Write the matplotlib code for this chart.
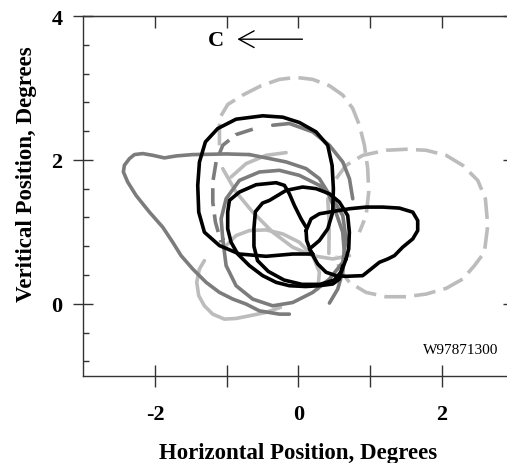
import matplotlib
matplotlib.use("Agg")
import matplotlib.pyplot as plt
from matplotlib.patches import FancyArrowPatch

plt.rcParams['font.family'] = ['Liberation Serif', 'DejaVu Serif']

# ---- data (degrees) ----
black_big_x = [0.200, -0.079, -0.451, -0.823, -1.101, -1.311, -1.390, -1.404, -1.380, -1.297, -1.125, -0.869,
               -0.497, -0.218, 0.014, 0.247, 0.409, 0.470, 0.488, 0.479, 0.409, 0.293, 0.154, 0.200]
black_big_y = [0.692, 0.692, 0.660, 0.692, 0.809, 0.995, 1.274, 1.646, 1.971, 2.250, 2.436, 2.566,
               2.613, 2.594, 2.520, 2.389, 2.203, 1.924, 1.599, 1.274, 1.041, 0.879, 0.762, 0.692]

black_mid_x = [0.107, 0.037, -0.056, -0.126, -0.195, -0.311, -0.590, -0.823, -0.962, -0.986, -0.986, -0.939,
               -0.847, -0.683, -0.498, -0.311, -0.126, 0.100, 0.293, 0.479, 0.572, 0.618]
black_mid_y = [1.065, 1.181, 1.367, 1.530, 1.646, 1.683, 1.655, 1.553, 1.437, 1.274, 1.042, 0.856,
               0.693, 0.530, 0.391, 0.298, 0.251, 0.240, 0.251, 0.275, 0.344, 0.530]

black_small_x = [0.665, 0.600, 0.500, 0.300, 0.050, -0.200, -0.420, -0.570, -0.620, -0.620, -0.600, -0.500,
                 -0.404, -0.172, 0.060, 0.247, 0.432, 0.572, 0.688, 0.711, 0.702, 0.665]
black_small_y = [0.623, 0.450, 0.330, 0.270, 0.270, 0.330, 0.450, 0.600, 0.800, 1.050, 1.280, 1.400,
                 1.437, 1.576, 1.623, 1.600, 1.530, 1.414, 1.227, 0.996, 0.763, 0.623]

black_lobe_x = [0.107, 0.177, 0.293, 0.479, 0.711, 0.944, 1.176, 1.409, 1.595, 1.664, 1.664, 1.595, 1.455,
                1.339, 1.246, 1.130, 1.014, 0.897, 0.665, 0.526, 0.386, 0.269, 0.177, 0.116, 0.107]
black_lobe_y = [1.018, 1.181, 1.251, 1.283, 1.321, 1.344, 1.344, 1.330, 1.274, 1.158, 1.018, 0.902, 0.787,
                0.669, 0.623, 0.577, 0.484, 0.391, 0.382, 0.391, 0.438, 0.554, 0.717, 0.879, 1.018]

gray_tri_x = [-0.683, -1.008, -1.241, -1.474, -1.706, -1.869, -2.032, -2.171, -2.287, -2.357, -2.427, -2.441,
              -2.381, -2.264, -2.078, -1.893, -1.753, -1.636, -1.474, -1.287, -1.102, -0.916, -0.729,
              -0.544, -0.265, -0.126]
gray_tri_y = [2.074, 2.083, 2.078, 2.074, 2.055, 2.028, 2.064, 2.088, 2.074, 2.017, 1.925, 1.833,
              1.693, 1.506, 1.275, 1.066, 0.856, 0.669, 0.484, 0.298, 0.159, 0.066, -0.004,
              -0.098, -0.144, -0.144]

gray_arc_x = [-0.683, -0.451, -0.172, 0.107, 0.293, 0.409, 0.520, 0.618, 0.641, 0.620, 0.549, 0.433]
gray_arc_y = [2.074, 2.028, 1.972, 1.879, 1.739, 1.553, 1.280, 0.995, 0.716, 0.450, 0.205, 0.010]

gray_loop_x = [-1.055, -1.008, -0.869, -0.637, -0.358, -0.079, 0.200, 0.433, 0.619, 0.665, 0.619, 0.479,
               0.293, 0.014, -0.265, -0.544, -0.823, -1.008, -1.078, -1.055]
gray_loop_y = [0.902, 0.530, 0.251, 0.065, -0.028, 0.018, 0.158, 0.344, 0.576, 0.902, 1.227, 1.460,
               1.646, 1.785, 1.855, 1.832, 1.715, 1.460, 1.181, 0.902]

gray_dash_x = [-0.636, -0.869, -1.055, -1.148, -1.194, -1.194, -1.157, -1.078]
gray_dash_y = [2.427, 2.352, 2.203, 1.971, 1.692, 1.413, 1.134, 0.855]

gray_top_x = [-0.358, -0.125, 0.200, 0.433, 0.619, 0.712, 0.758]
gray_top_y = [2.482, 2.506, 2.389, 2.203, 1.971, 1.739, 1.460]

light_top_x = [-1.101, -1.101, -0.985, -0.776, -0.520, -0.265, -0.032, 0.200, 0.433, 0.619, 0.758, 0.851,
               0.921, 0.967, 0.981, 0.944, 0.851]
light_top_y = [2.203, 2.575, 2.771, 2.901, 3.031, 3.119, 3.147, 3.119, 3.031, 2.901, 2.715, 2.482,
               2.203, 1.878, 1.553, 1.227, 0.995]

light_right_x = [0.526, 0.665, 0.898, 1.223, 1.502, 1.781, 2.060, 2.292, 2.502, 2.608, 2.641, 2.594, 2.455,
                 2.292, 2.060, 1.781, 1.502, 1.223, 0.944, 0.712, 0.572, 0.526]
light_right_y = [1.739, 1.924, 2.064, 2.134, 2.148, 2.134, 2.064, 1.924, 1.715, 1.460, 1.088, 0.716, 0.530,
                 0.344, 0.214, 0.135, 0.098, 0.098, 0.158, 0.297, 0.483, 0.669]

light_low_x = [-1.311, -1.381, -1.418, -1.390, -1.311, -1.195, -1.032, -0.869, -0.683, -0.451, -0.250]
light_low_y = [0.600, 0.484, 0.298, 0.112, -0.028, -0.144, -0.213, -0.204, -0.167, -0.120, -0.050]

light_mid_x = [-1.008, -0.869, -0.683, -0.451, -0.218, 0.014, 0.200, 0.293, 0.270]
light_mid_y = [0.809, 0.948, 1.018, 1.027, 0.971, 0.855, 0.669, 0.437, 0.204]

light_diag_x = [-1.055, -0.869, -0.637, -0.358, -0.079, 0.200, 0.479, 0.712]
light_diag_y = [1.878, 1.553, 1.274, 0.995, 0.786, 0.669, 0.623, 0.669]

light_arc_x = [-0.939, -0.730, -0.451, -0.172]
light_arc_y = [1.762, 1.948, 2.064, 2.101]

light_vert_x = [0.409, 0.430, 0.425]
light_vert_y = [1.460, 1.100, 0.700]

x_ticks = [-2, -1, 0, 1, 2]
x_labels = ['-2', '', '0', '', '2']
y_ticks = [0, 2, 4]
y_labels = ['0', '2', '4']

BLACK = '#000000'
DARK = '#7c7c7c'
LIGHT = '#bcbcbc'

fig = plt.figure(figsize=(5.07, 4.64), dpi=100)
ax = fig.add_axes([0.1643, 0.1881, 0.8485, 0.7752])

lw = 2.6
kw = dict(solid_capstyle='round', solid_joinstyle='round', dash_capstyle='butt')

# light gray dashed
for xs, ys in [(light_top_x, light_top_y), (light_right_x, light_right_y)]:
    l, = ax.plot(xs, ys, color=LIGHT, lw=lw, **kw)
    l.set_dashes([6.0, 2.3])
# light gray solid
for xs, ys in [(light_low_x, light_low_y), (light_mid_x, light_mid_y), (light_diag_x, light_diag_y),
               (light_arc_x, light_arc_y), (light_vert_x, light_vert_y)]:
    ax.plot(xs, ys, color=LIGHT, lw=lw, **kw)
# dark gray
for xs, ys in [(gray_tri_x, gray_tri_y), (gray_arc_x, gray_arc_y), (gray_loop_x, gray_loop_y),
               (gray_top_x, gray_top_y)]:
    ax.plot(xs, ys, color=DARK, lw=lw, **kw)
l, = ax.plot(gray_dash_x, gray_dash_y, color=DARK, lw=lw, **kw)
l.set_dashes([5, 2.3])
# black
for xs, ys in [(black_big_x, black_big_y), (black_mid_x, black_mid_y), (black_small_x, black_small_y),
               (black_lobe_x, black_lobe_y)]:
    ax.plot(xs, ys, color=BLACK, lw=2.6, **kw)

ax.set_xlim(-3, 3)
ax.set_ylim(-1, 4)

for s in ax.spines.values():
    s.set_linewidth(1.0)
    s.set_color('#333333')

ax.set_xticks(x_ticks)
ax.set_xticklabels(x_labels)
ax.set_yticks(y_ticks)
ax.set_yticklabels(y_labels)
ax.set_yticks([v / 10 for v in range(-8, 40, 4)], minor=True)
ax.tick_params(axis='x', which='major', direction='inout', length=16, width=1.0, pad=12.5,
               labelsize=16, color='#333333')
ax.tick_params(axis='y', which='major', direction='inout', length=14, width=1.0, pad=7.8,
               labelsize=16, color='#333333')
ax.tick_params(axis='y', which='minor', direction='in', length=4.5, width=1.0, color='#333333')
for lab in ax.get_xticklabels() + ax.get_yticklabels():
    lab.set_fontweight('bold')

top = ax.secondary_xaxis('top')
top.set_xticks(x_ticks)
top.set_xticklabels([])
top.tick_params(direction='in', length=8.6, width=1.0, color='#333333')
right = ax.secondary_yaxis('right')
right.set_yticks(y_ticks)
right.set_yticklabels([])
right.tick_params(direction='in', length=7, width=1.0, color='#333333')

ax.set_xlabel('Horizontal Position, Degrees', fontsize=16.5, fontweight='bold')
ax.xaxis.set_label_coords(0.5003, -0.183)
ax.set_ylabel('Veritical Position, Degrees', fontsize=16.5, fontweight='bold')
ax.yaxis.set_label_coords(-0.1076, 0.5635)

ax.text(-1.148, 3.66, 'C', fontsize=16, fontweight='bold', ha='center', va='center')
arr = FancyArrowPatch((0.056, 3.678), (-0.851, 3.678), arrowstyle='->,head_length=0.55,head_width=0.3',
                      lw=1.0, color='black', mutation_scale=20, shrinkA=0, shrinkB=0)
ax.add_patch(arr)
ax.text(2.27, -0.632, 'W97871300', fontsize=11, ha='center', va='center')

fig.savefig('out.png', dpi=100)
